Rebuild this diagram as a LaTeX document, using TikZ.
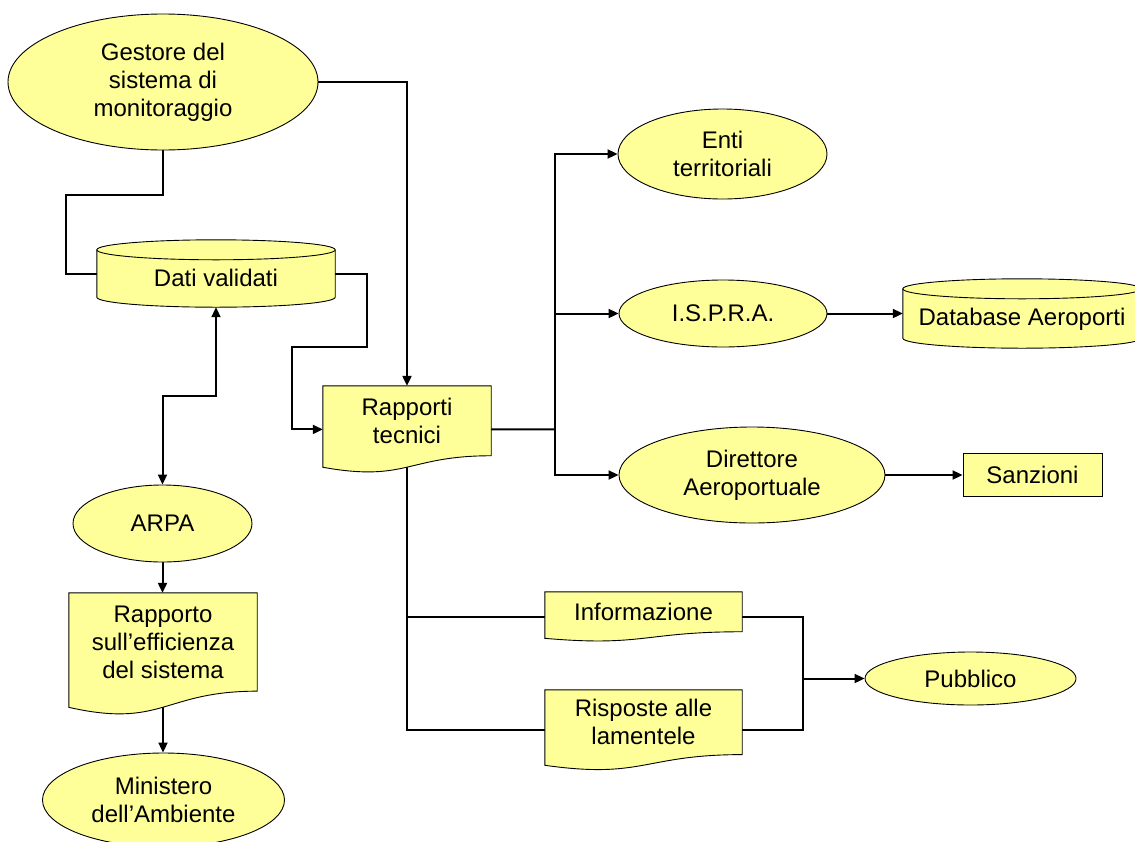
\documentclass[tikz,border=0pt]{standalone}
\usepackage{fontspec}
\setmainfont{Liberation Sans}
\usetikzlibrary{shapes.geometric,arrows.meta,calc}
\pgfdeclarelayer{connlayer}
\pgfdeclarelayer{shplayer}
\pgfsetlayers{connlayer,shplayer,main}
\definecolor{yel}{HTML}{FFFF99}
\tikzset{
  basenode/.style={font=\fontsize{24}{28}\selectfont, align=center, inner sep=0pt},
  ellnode/.style={basenode, ellipse, draw, line width=0.9pt, fill=yel},
  boxnode/.style={basenode, rectangle, draw, line width=0.9pt, fill=yel},
  txtnode/.style={basenode},
  shapeline/.style={draw, line width=0.9pt, fill=yel},
  wire/.style={line width=2pt},
  wirearrow/.style={wire, -{Triangle[length=10pt,width=9pt]}},
  wiredouble/.style={wire, {Triangle[length=10pt,width=9pt]}-{Triangle[length=10pt,width=9pt]}},
}
\newcommand\cylshape[1]{%
  \begin{pgfonlayer}{shplayer}
  \path[shapeline] let \p1=(#1.north west), \p2=(#1.south east), \n3={(\x2-\x1)/2} in
    (\x1,\y1-10pt) -- (\x1,\y2+10pt)
    arc[start angle=180,end angle=360,x radius=\n3,y radius=10pt]
    -- (\x2,\y1-10pt)
    arc[start angle=0,end angle=180,x radius=\n3,y radius=10pt] -- cycle;
  \draw[line width=0.9pt] let \p1=(#1.north west), \p2=(#1.south east), \n3={(\x2-\x1)/2} in
    (\x1,\y1-10pt) arc[start angle=180,end angle=360,x radius=\n3,y radius=10pt];
  \end{pgfonlayer}}
\newcommand\docshape[1]{%
  \begin{pgfonlayer}{shplayer}
  \path[shapeline] let \p1=(#1.north west), \p2=(#1.south east), \n1={\x2-\x1}, \n2={(\y1-\y2)/0.802} in
    (\x1,\y1) -- (\x2,\y1) -- (\x2,\y2)
    .. controls (\x1+0.5*\n1,\y2) and (\x1+0.5*\n1,\y1-1.1075*\n2) .. (\x1,\y1-0.934*\n2) -- cycle;
  \end{pgfonlayer}}
\begin{document}
\begin{tikzpicture}[x=1pt,y=-1pt]
\useasboundingbox (0,0) rectangle (1135,841);
% nodes
\node[ellnode, minimum width=310pt, minimum height=136pt] (gest) at (163,82) {Gestore del\\sistema di\\monitoraggio};
\node[txtnode, minimum width=238pt, minimum height=67pt, text height=26pt] (dati) at (216,273.5) {Dati validati};
\node[txtnode, minimum width=168pt, minimum height=69.5pt] (rapt) at (407,420.8) {Rapporti\\tecnici};
\node[ellnode, minimum width=209pt, minimum height=90pt] (enti) at (722.5,154) {Enti\\territoriali};
\node[ellnode, minimum width=208pt, minimum height=67pt] (ispra) at (723,313.5) {I.S.P.R.A.};
\node[txtnode, minimum width=238pt, minimum height=69pt, text height=29pt] (dbaer) at (1022,313.5) {Database Aeroporti};
\node[ellnode, minimum width=266pt, minimum height=96pt] (dir) at (752,475) {Direttore\\Aeroportuale};
\node[boxnode, minimum width=139pt, minimum height=43pt] (sanz) at (1032.5,475) {Sanzioni};
\node[txtnode, minimum width=197pt, minimum height=39.5pt] (info) at (643.5,611.8) {Informazione};
\node[txtnode, minimum width=197pt, minimum height=64.4pt] (risp) at (643.5,722.2) {Risposte alle\\lamentele};
\node[ellnode, minimum width=211pt, minimum height=53pt] (pubb) at (970.5,678.5) {Pubblico};
\node[ellnode, minimum width=179pt, minimum height=77pt] (arpa) at (162.5,523.5) {ARPA};
\node[txtnode, minimum width=188pt, minimum height=97.9pt] (rsis) at (163,642) {Rapporto\\sull’efficienza\\del sistema};
\node[ellnode, minimum width=242pt, minimum height=94pt] (mini) at (163.5,800) {Ministero\\dell’Ambiente};
% shapes
\cylshape{dati}
\cylshape{dbaer}
\docshape{rapt}
\docshape{info}
\docshape{risp}
\docshape{rsis}
% connectors
\begin{pgfonlayer}{connlayer}
\coordinate (raptW) at ($(rapt.west)+(0,8.6)$);
\coordinate (raptE) at ($(rapt.east)+(0,8.6)$);
\coordinate (infoW) at ($(info.west)+(0,4.9)$);
\coordinate (infoE) at ($(info.east)+(0,4.9)$);
\coordinate (rispW) at ($(risp.west)+(0,7.9)$);
\coordinate (rispE) at ($(risp.east)+(0,7.9)$);
\coordinate (hub) at (555,429.4);
\coordinate (join) at (803,678.5);
\draw[wirearrow] (gest.east) -| (rapt.north);
\draw[wire] (gest.south) -- ++(0,45) -| ($(dati.west)+(-31,0)$) -- (dati.west);
\draw[wirearrow] (dati.east) -- ++(32,0) -- ++(0,73.5) -- (292,347) |- (raptW);
\draw[wire] (raptE) -- (hub);
\draw[wirearrow] (hub) |- (enti.west);
\draw[wirearrow] (hub) |- (ispra.west);
\draw[wirearrow] (hub) |- (dir.west);
\draw[wirearrow] (ispra.east) -- (dbaer.west);
\draw[wirearrow] (dir.east) -- (sanz.west);
\draw[wire] (rapt.south) |- (rispW);
\draw[wire] (rapt.south |- infoW) -- (infoW);
\draw[wire] (infoE) -| (join) |- (rispE);
\draw[wirearrow] (join) -- (pubb.west);
\draw[wiredouble] (dati.south) -- ++(0,89) -| (arpa.north);
\draw[wirearrow] (arpa.south) -- (arpa.south |- rsis.north);
\draw[wirearrow] (rsis.south) -- (rsis.south |- mini.north);
\end{pgfonlayer}
\end{tikzpicture}
\end{document}
